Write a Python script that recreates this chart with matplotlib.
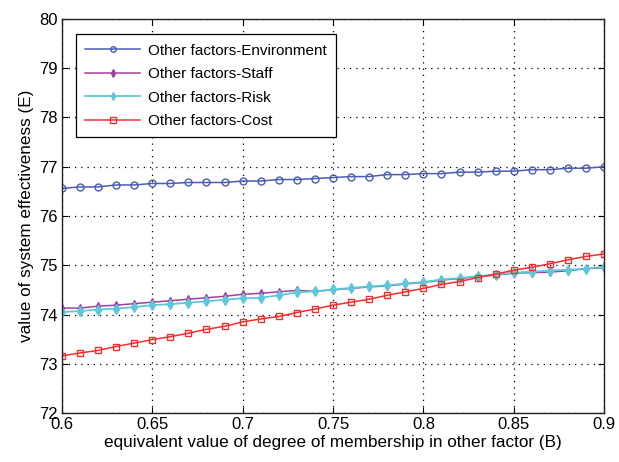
import numpy as np
import matplotlib as mpl
import matplotlib.pyplot as plt

mpl.rc('font', family=['Liberation Sans', 'DejaVu Sans'], size=10)

b_vals = [round(0.60 + 0.01 * i, 2) for i in range(31)]

environment = [76.56, 76.59, 76.59, 76.63, 76.63, 76.66, 76.66, 76.68, 76.68, 76.68,
               76.71, 76.71, 76.74, 76.74, 76.76, 76.78, 76.80, 76.80, 76.84, 76.84,
               76.86, 76.86, 76.89, 76.89, 76.91, 76.91, 76.94, 76.94, 76.97, 76.97,
               77.00]
staff = [74.13, 74.13, 74.17, 74.19, 74.22, 74.25, 74.28, 74.31, 74.34, 74.37,
         74.41, 74.43, 74.46, 74.49, 74.47, 74.50, 74.53, 74.56, 74.58, 74.62,
         74.65, 74.70, 74.73, 74.77, 74.80, 74.84, 74.85, 74.86, 74.89, 74.93,
         74.95]
risk = [74.05, 74.07, 74.10, 74.12, 74.15, 74.19, 74.21, 74.24, 74.27, 74.30,
        74.33, 74.34, 74.39, 74.45, 74.47, 74.51, 74.54, 74.57, 74.59, 74.63,
        74.66, 74.71, 74.74, 74.78, 74.81, 74.85, 74.87, 74.89, 74.91, 74.93,
        74.97]
cost = [73.16, 73.22, 73.27, 73.35, 73.42, 73.49, 73.55, 73.62, 73.70, 73.76,
        73.85, 73.91, 73.96, 74.04, 74.11, 74.19, 74.25, 74.31, 74.39, 74.46,
        74.53, 74.61, 74.67, 74.75, 74.82, 74.90, 74.96, 75.03, 75.11, 75.18,
        75.23]

labels = ['Other factors-Environment', 'Other factors-Staff',
          'Other factors-Risk', 'Other factors-Cost']

fig = plt.figure(figsize=(6.19, 4.62), dpi=100)
ax = fig.add_axes([0.100, 0.106, 0.876, 0.853])

ax.plot(b_vals, environment, color='#4a5cb4', marker='o', ms=5, mfc='none',
        mew=1.0, lw=1.1, label=labels[0])
ax.plot(b_vals, staff, color='#a33fa3', marker='d', ms=4.2, lw=1.1, label=labels[1])
ax.plot(b_vals, risk, color='#5ec8da', marker='d', ms=4.8, lw=1.3, label=labels[2])
ax.plot(b_vals, cost, color='#f03030', marker='s', ms=5, mfc='none',
        mew=1.0, lw=1.1, label=labels[3])

ax.set_xlim(0.6, 0.9)
ax.set_ylim(72, 80)
ax.set_xticks([0.6, 0.65, 0.7, 0.75, 0.8, 0.85, 0.9])
ax.set_xticklabels(['0.6', '0.65', '0.7', '0.75', '0.8', '0.85', '0.9'])
ax.set_yticks(range(72, 81))
ax.tick_params(direction='in', length=4, top=True, right=True, labelsize=12,
               pad=3)
ax.grid(True, color='black', linestyle=(0, (1, 4)), linewidth=0.9)
for sp in ax.spines.values():
    sp.set_linewidth(1.0)
    sp.set_color('#222222')

ax.set_xlabel('equivalent value of degree of membership in other factor (B)',
              fontsize=12.3, labelpad=2)
ax.set_ylabel('value of system effectiveness (E)', fontsize=12.3, labelpad=4)

leg = ax.legend(loc='upper left', bbox_to_anchor=(0.012, 0.98), fontsize=11,
                fancybox=False, framealpha=1, edgecolor='black',
                handlelength=3.6, handletextpad=0.5, borderpad=0.6,
                labelspacing=0.62)
leg.get_frame().set_linewidth(0.9)
for h in leg.legend_handles:
    h.set_markersize(4)

fig.savefig('out.png', dpi=100)
